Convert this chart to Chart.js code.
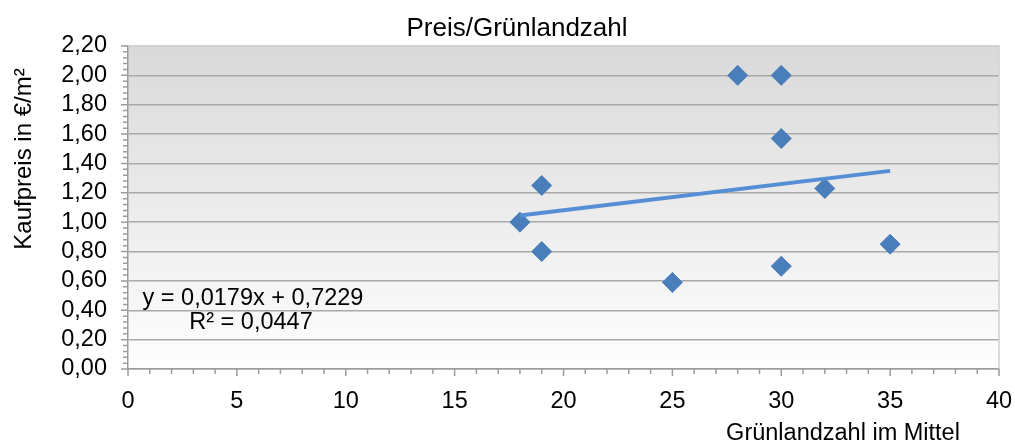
<!DOCTYPE html>
<html>
<head>
<meta charset="utf-8">
<script src="https://cdn.jsdelivr.net/npm/chart.js@4/dist/chart.umd.min.js"></script>
<style>
  html, body { margin: 0; padding: 0; background: #ffffff; }
  #wrap { width: 1015px; height: 448px; position: relative; }
</style>
</head>
<body>
<div id="wrap"><canvas id="grafica"></canvas></div>
<script>
// Datos
const gruenlandzahl = [18, 19, 19, 25, 28, 30, 30, 30, 32, 35];
const kaufpreis = [1.00, 1.25, 0.80, 0.59, 2.00, 2.00, 1.57, 0.70, 1.23, 0.85];
const trendSteigung = 0.0179;
const trendAchse = 0.7229;
const trendBestimmtheit = 0.0447;
const xTicks = [0, 5, 10, 15, 20, 25, 30, 35, 40];
const yTicks = [0, 0.2, 0.4, 0.6, 0.8, 1.0, 1.2, 1.4, 1.6, 1.8, 2.0, 2.2];

const fuente = '"Liberation Sans", Arial, sans-serif';
const colores = {
    punto: '#4a7ebb',
    tendencia: '#558ed5',
    rejilla: '#a9a9a9',
    eje: '#9c9c9c',
    borde: '#d0d0d0',
    texto: '#000000'
};

const coma = v => String(v).replace('.', ',');

// Línea de tendencia entre el mínimo y el máximo de x
const xMin = Math.min(...gruenlandzahl);
const xMax = Math.max(...gruenlandzahl);
const tendencia = [xMin, xMax].map(x => ({ x: x, y: trendAchse + trendSteigung * x }));

// Fondo degradado, marcas de escala y textos
const extras = {
    id: 'extras',
    beforeDraw(chart) {
        const { ctx, chartArea: a } = chart;
        const g = ctx.createLinearGradient(0, a.top, 0, a.bottom);
        g.addColorStop(0, '#d9d9d9');
        g.addColorStop(1, '#fefefe');
        ctx.save();
        ctx.fillStyle = g;
        ctx.fillRect(a.left, a.top, a.right - a.left, a.bottom - a.top);
        ctx.restore();
    },
    afterDraw(chart) {
        const { ctx, chartArea: a, scales } = chart;
        ctx.save();
        // borde derecho y superior
        ctx.strokeStyle = colores.borde;
        ctx.lineWidth = 1.5;
        ctx.beginPath();
        ctx.moveTo(a.left, a.top);
        ctx.lineTo(a.right, a.top);
        ctx.lineTo(a.right, a.bottom);
        ctx.stroke();

        // marcas del eje x (cada 1, mayor cada 5)
        ctx.strokeStyle = colores.eje;
        ctx.lineWidth = 1.5;
        ctx.beginPath();
        for (let v = 0; v <= 40; v++) {
            const px = scales.x.getPixelForValue(v);
            const len = v % 5 === 0 ? 7 : 5;
            ctx.moveTo(px, a.bottom);
            ctx.lineTo(px, a.bottom + len);
        }
        // marcas del eje y (cada 0,04, mayor cada 0,2)
        for (let i = 0; i <= 55; i++) {
            const py = scales.y.getPixelForValue(i * 0.04);
            const len = i % 5 === 0 ? 7 : 5;
            ctx.moveTo(a.left, py);
            ctx.lineTo(a.left - len, py);
        }
        ctx.stroke();

        // textos
        ctx.fillStyle = colores.texto;
        ctx.textBaseline = 'alphabetic';
        ctx.textAlign = 'center';
        ctx.font = '26px ' + fuente;
        ctx.fillText('Preis/Grünlandzahl', 517, 36);

        ctx.font = '23.5px ' + fuente;
        ctx.fillText('Grünlandzahl im Mittel', 843, 440);

        ctx.fillText('y = ' + coma(trendSteigung) + 'x + ' + coma(trendAchse), 253, 304.5);
        ctx.fillText('R² = ' + coma(trendBestimmtheit), 251, 328.5);

        ctx.font = '24px ' + fuente;
        ctx.translate(31, 159);
        ctx.rotate(-Math.PI / 2);
        ctx.fillText('Kaufpreis in €/m²', 0, 0);
        ctx.restore();
    }
};

document.addEventListener('DOMContentLoaded', function() {
    const ctx = document.getElementById('grafica').getContext('2d');
    new Chart(ctx, {
        type: 'scatter',
        data: {
            datasets: [
                {
                    label: 'Trend',
                    type: 'line',
                    data: tendencia,
                    borderColor: colores.tendencia,
                    borderWidth: 4,
                    pointRadius: 0,
                    fill: false,
                    order: 0
                },
                {
                    label: 'Preis',
                    data: gruenlandzahl.map((x, i) => ({ x: x, y: kaufpreis[i] })),
                    backgroundColor: colores.punto,
                    borderColor: colores.punto,
                    borderWidth: 1,
                    pointStyle: 'rectRot',
                    pointRadius: 10,
                    pointHoverRadius: 10,
                    order: 1
                }
            ]
        },
        options: {
            responsive: true,
            maintainAspectRatio: false,
            animation: false,
            events: [],
            layout: {
                padding: { top: 46, right: 16, left: 0, bottom: 0 }
            },
            plugins: {
                legend: { display: false },
                tooltip: { enabled: false },
                title: { display: false }
            },
            scales: {
                x: {
                    type: 'linear',
                    min: xTicks[0],
                    max: xTicks[xTicks.length - 1],
                    afterBuildTicks: s => { s.ticks = xTicks.map(v => ({ value: v })); },
                    afterFit: s => { s.height = 79; s.paddingLeft = 0; s.paddingRight = 0; },
                    grid: { display: false, drawTicks: false },
                    border: { display: true, color: colores.eje, width: 1.5 },
                    ticks: {
                        padding: 18,
                        color: colores.texto,
                        font: { family: fuente, size: 23.5 },
                        maxRotation: 0,
                        autoSkip: false,
                        callback: v => String(v)
                    }
                },
                y: {
                    type: 'linear',
                    min: yTicks[0],
                    max: yTicks[yTicks.length - 1],
                    afterBuildTicks: s => { s.ticks = yTicks.map(v => ({ value: v })); },
                    afterFit: s => { s.width = 128; s.paddingTop = 0; s.paddingBottom = 0; },
                    grid: {
                        drawTicks: false,
                        lineWidth: 1.5,
                        color: c => c.tick && c.tick.value >= 2.19 ? colores.borde : colores.rejilla
                    },
                    border: { display: true, color: colores.eje, width: 1.5 },
                    ticks: {
                        padding: 21,
                        color: colores.texto,
                        font: { family: fuente, size: 23.5 },
                        autoSkip: false,
                        callback: v => v.toFixed(2).replace('.', ',')
                    }
                }
            }
        },
        plugins: [extras]
    });
});
</script>
</body>
</html>
